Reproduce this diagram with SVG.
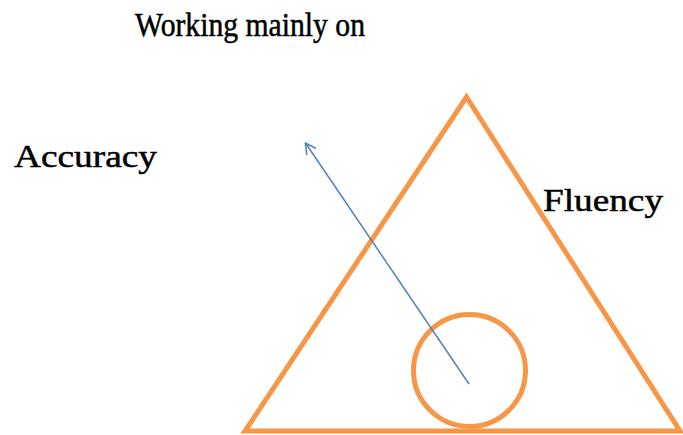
<svg xmlns="http://www.w3.org/2000/svg" width="683" height="435" viewBox="0 0 683 435">
<style>
.lbl{font-family:"Liberation Serif","Times New Roman",serif;fill:#000;stroke:#000;stroke-width:0.5;font-size:32px}
.title{font-size:34px}
.shape{fill:none;stroke:#F79646;stroke-width:5}
.conn{fill:none;stroke:#4F81BD;stroke-width:1.5}
</style>
<defs>
<marker id="arr" viewBox="0 0 12 12" refX="11" refY="6" markerWidth="12" markerHeight="12" markerUnits="userSpaceOnUse" orient="auto">
<path d="M0,0 L11,6 L0,12" fill="none" stroke="#4F81BD" stroke-width="1.5"/>
</marker>
</defs>
<rect width="683" height="435" fill="#fff"/>
<g id="title"><text class="lbl title" x="135" y="36" textLength="230" lengthAdjust="spacingAndGlyphs">Working mainly on</text></g>
<g id="triangle"><polygon class="shape" points="466.5,97 245,431 680,431" stroke-linejoin="miter"/></g>
<g id="circle"><circle class="shape" cx="469.5" cy="370.5" r="56"/></g>
<g id="accuracy"><text class="lbl" x="14" y="167" textLength="143" lengthAdjust="spacingAndGlyphs">Accuracy</text></g>
<g id="fluency"><text class="lbl" x="543" y="211" textLength="120" lengthAdjust="spacingAndGlyphs">Fluency</text></g>
<g id="connectors"><line class="conn" x1="469" y1="384" x2="305.5" y2="143" marker-end="url(#arr)"/></g>
</svg>
